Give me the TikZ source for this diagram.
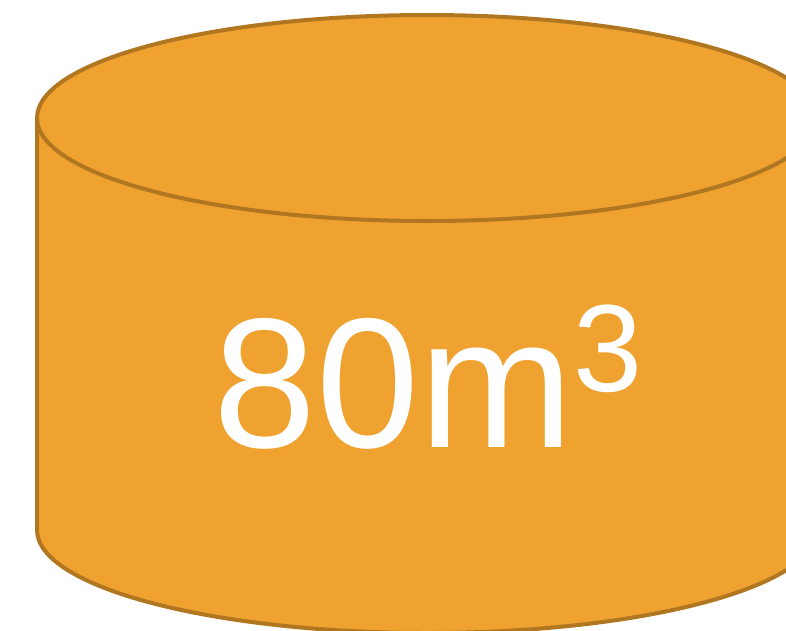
\documentclass[tikz,border=0pt]{standalone}
\usepackage{fontspec}
\setmainfont{Liberation Sans}
\usetikzlibrary{positioning}
\definecolor{tankfill}{RGB}{239,162,48}
\definecolor{tankline}{RGB}{176,118,32}

\begin{document}
\begin{tikzpicture}[x=1pt,y=-1pt,
  shell/.style={fill=tankfill,draw=tankline,line width=4pt,line join=round},
  vol/.style={text=white,inner sep=0pt,font=\fontsize{185}{200}\selectfont}
]
\useasboundingbox (0,0) rectangle (786,630);
\coordinate (tl) at (37,118);
\coordinate (tr) at (817,118);
\coordinate (bl) at (37,530);
\coordinate (br) at (817,530);
% body and bottom rim
\draw[shell] (tl) -- (bl) arc[start angle=180,end angle=360,x radius=390,y radius=-103]
  -- (tr) -- cycle;
% lid
\draw[shell] (427,118) ellipse[x radius=390,y radius=103];
\node[vol,anchor=base] (v) at (428,447) {80m\raisebox{56pt}{\fontsize{124}{140}\selectfont 3}};
\end{tikzpicture}
\end{document}
